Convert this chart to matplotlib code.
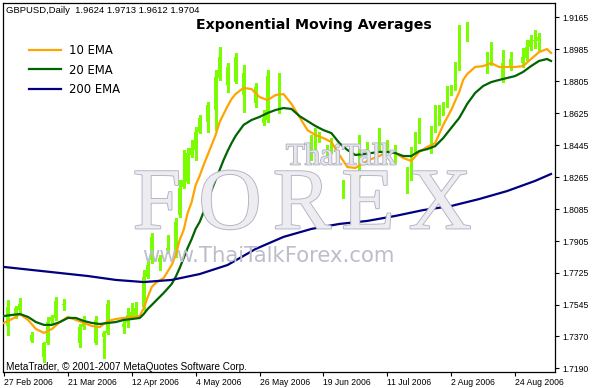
import matplotlib
matplotlib.use("Agg")
import matplotlib.pyplot as plt
import matplotlib.patheffects as pe
import numpy as np

# ---------------- data ----------------
opens = [1.7489, 1.7427, 1.7534, 1.7489, 1.7517, 1.7551, 1.7472, 1.7342, 1.7376, 1.7320,
         1.7253, 1.7331, 1.7455, 1.7472, 1.7567, 1.7545, 1.7551, 1.7506, 1.7461, 1.7331,
         1.7422, 1.7450, 1.7404, 1.7331, 1.7461, 1.7365, 1.7387, 1.7551, 1.7489, 1.7450,
         1.7422, 1.7444, 1.7478, 1.7489, 1.7528, 1.7534, 1.7703, 1.7798, 1.7928, 1.7787,
         1.7809, 1.7848, 1.7866, 1.7837, 1.8051, 1.8209, 1.8237, 1.8389, 1.8417, 1.8518,
         1.8597, 1.8575, 1.8670, 1.8642, 1.8822, 1.8940, 1.8783, 1.8884, 1.8800, 1.8940,
         1.8726, 1.8850, 1.8766, 1.8681, 1.8772, 1.8569, 1.8586, 1.8833, 1.8726, 1.8659,
         1.8822, 1.8698, 1.8631, 1.8541, 1.8428, 1.8417, 1.8417, 1.8372, 1.8428, 1.8484,
         1.8495, 1.8400, 1.8417, 1.8456, 1.8361, 1.8175, 1.8231, 1.8214, 1.8175, 1.8400,
         1.8484, 1.8406, 1.8439, 1.8445, 1.8428, 1.8507, 1.8422, 1.8439, 1.8361, 1.8434,
         1.8333, 1.8203, 1.8259, 1.8417, 1.8484, 1.8586, 1.8541, 1.8456, 1.8529, 1.8575,
         1.8625, 1.8670, 1.8754, 1.8766, 1.8878, 1.9081, 1.9036, 1.9064, 1.8979, 1.8923,
         1.8912, 1.8906, 1.8934, 1.8962, 1.8867, 1.8811, 1.8906, 1.8884, 1.8929, 1.8912,
         1.8906, 1.8934, 1.8997, 1.9030, 1.9030, 1.9053, 1.9008, 1.8968]
highs = [1.7517, 1.7573, 1.7556, 1.7539, 1.7584, 1.7562, 1.7489, 1.7393, 1.7387, 1.7342,
         1.7337, 1.7478, 1.7489, 1.7590, 1.7578, 1.7578, 1.7562, 1.7522, 1.7472, 1.7439,
         1.7483, 1.7461, 1.7422, 1.7483, 1.7472, 1.7399, 1.7573, 1.7562, 1.7506, 1.7461,
         1.7461, 1.7528, 1.7556, 1.7562, 1.7545, 1.7742, 1.7798, 1.7950, 1.7939, 1.7826,
         1.7837, 1.7939, 1.7888, 1.8034, 1.8248, 1.8417, 1.8428, 1.8473, 1.8547, 1.8614,
         1.8631, 1.8687, 1.8698, 1.8867, 1.8997, 1.9008, 1.8906, 1.8923, 1.8962, 1.8951,
         1.8895, 1.8867, 1.8800, 1.8794, 1.8783, 1.8642, 1.8867, 1.8856, 1.8754, 1.8850,
         1.8833, 1.8720, 1.8653, 1.8558, 1.8473, 1.8439, 1.8445, 1.8501, 1.8541, 1.8518,
         1.8507, 1.8445, 1.8484, 1.8473, 1.8389, 1.8248, 1.8259, 1.8237, 1.8259, 1.8501,
         1.8501, 1.8462, 1.8456, 1.8473, 1.8541, 1.8529, 1.8473, 1.8462, 1.8445, 1.8445,
         1.8361, 1.8322, 1.8434, 1.8518, 1.8597, 1.8608, 1.8558, 1.8552, 1.8670, 1.8670,
         1.8687, 1.8777, 1.8783, 1.8912, 1.9120, 1.9120, 1.9137, 1.9092, 1.9008, 1.8951,
         1.8934, 1.8968, 1.9025, 1.8979, 1.8895, 1.8979, 1.8923, 1.8968, 1.8951, 1.8934,
         1.8991, 1.9036, 1.9064, 1.9092, 1.9075, 1.9070, 1.9036, 1.8991]
lows = [1.7427, 1.7376, 1.7472, 1.7472, 1.7500, 1.7450, 1.7370, 1.7337, 1.7303, 1.7258,
        1.7225, 1.7326, 1.7444, 1.7461, 1.7528, 1.7517, 1.7489, 1.7439, 1.7376, 1.7309,
        1.7410, 1.7387, 1.7314, 1.7326, 1.7370, 1.7247, 1.7382, 1.7472, 1.7427, 1.7399,
        1.7387, 1.7422, 1.7472, 1.7478, 1.7489, 1.7517, 1.7697, 1.7781, 1.7781, 1.7742,
        1.7764, 1.7837, 1.7820, 1.7815, 1.8040, 1.8203, 1.8231, 1.8378, 1.8361, 1.8512,
        1.8529, 1.8518, 1.8614, 1.8529, 1.8811, 1.8822, 1.8743, 1.8766, 1.8794, 1.8811,
        1.8631, 1.8698, 1.8653, 1.8659, 1.8575, 1.8558, 1.8575, 1.8698, 1.8631, 1.8625,
        1.8676, 1.8597, 1.8512, 1.8417, 1.8383, 1.8361, 1.8316, 1.8361, 1.8417, 1.8462,
        1.8378, 1.8383, 1.8400, 1.8344, 1.8164, 1.8147, 1.8192, 1.8158, 1.8164, 1.8265,
        1.8389, 1.8400, 1.8372, 1.8389, 1.8417, 1.8417, 1.8406, 1.8383, 1.8350, 1.8304,
        1.8220, 1.8175, 1.8248, 1.8406, 1.8456, 1.8518, 1.8473, 1.8400, 1.8518, 1.8558,
        1.8614, 1.8659, 1.8726, 1.8754, 1.8867, 1.9036, 1.9030, 1.8951, 1.8895, 1.8839,
        1.8867, 1.8850, 1.8895, 1.8839, 1.8783, 1.8800, 1.8856, 1.8867, 1.8878, 1.8867,
        1.8884, 1.8923, 1.8979, 1.8991, 1.8979, 1.8979, 1.8945, 1.8923]
closes = [1.7450, 1.7534, 1.7489, 1.7528, 1.7551, 1.7472, 1.7387, 1.7376, 1.7320, 1.7281,
          1.7331, 1.7450, 1.7478, 1.7567, 1.7545, 1.7551, 1.7506, 1.7461, 1.7404, 1.7422,
          1.7450, 1.7404, 1.7331, 1.7461, 1.7387, 1.7387, 1.7551, 1.7489, 1.7450, 1.7422,
          1.7439, 1.7489, 1.7506, 1.7528, 1.7506, 1.7703, 1.7770, 1.7928, 1.7798, 1.7809,
          1.7787, 1.7866, 1.7837, 1.8012, 1.8203, 1.8248, 1.8400, 1.8428, 1.8518, 1.8597,
          1.8575, 1.8670, 1.8642, 1.8828, 1.8940, 1.8884, 1.8884, 1.8800, 1.8940, 1.8850,
          1.8850, 1.8766, 1.8681, 1.8772, 1.8597, 1.8597, 1.8833, 1.8726, 1.8659, 1.8822,
          1.8698, 1.8631, 1.8541, 1.8428, 1.8406, 1.8389, 1.8333, 1.8434, 1.8484, 1.8495,
          1.8400, 1.8422, 1.8456, 1.8361, 1.8192, 1.8231, 1.8214, 1.8175, 1.8237, 1.8484,
          1.8406, 1.8439, 1.8389, 1.8417, 1.8507, 1.8434, 1.8439, 1.8417, 1.8434, 1.8333,
          1.8259, 1.8265, 1.8344, 1.8484, 1.8586, 1.8541, 1.8501, 1.8541, 1.8575, 1.8631,
          1.8670, 1.8766, 1.8772, 1.8878, 1.9081, 1.9064, 1.9064, 1.8979, 1.8923, 1.8867,
          1.8895, 1.8940, 1.8962, 1.8867, 1.8811, 1.8906, 1.8884, 1.8929, 1.8901, 1.8889,
          1.8940, 1.8997, 1.9036, 1.9036, 1.9053, 1.9008, 1.8968, 1.8945]

ema_idx = [0, 2, 4, 6, 8, 10, 12, 14, 16, 18, 20, 22, 24, 26, 28, 30, 32, 34,
           35, 36, 37, 38, 40, 42, 43, 44, 45, 46, 47, 48, 49, 50, 51, 52, 53,
           54, 55, 56, 57, 58, 60, 62, 64, 66, 68, 70, 72, 74, 76, 78, 80, 82,
           84, 86, 88, 90, 92, 94, 96, 98, 100, 102, 104, 106, 108, 110, 112,
           114, 115, 116, 118, 120, 122, 124, 126, 128, 130, 132, 134, 136, 137]
ema10 = [1.7444, 1.7466, 1.7494, 1.7461, 1.7410, 1.7388, 1.7410, 1.7449, 1.7478,
         1.7461, 1.7444, 1.7427, 1.7421, 1.7455, 1.7466, 1.7472, 1.7478, 1.7483,
         1.7528, 1.7590, 1.7646, 1.7669, 1.7697, 1.7770, 1.7826, 1.7911, 1.7967,
         1.8063, 1.8124, 1.8220, 1.8271, 1.8333, 1.8389, 1.8445, 1.8501, 1.8574,
         1.8619, 1.8664, 1.8704, 1.8732, 1.8766, 1.8760, 1.8715, 1.8698, 1.8726,
         1.8732, 1.8676, 1.8603, 1.8529, 1.8501, 1.8484, 1.8462, 1.8389, 1.8321,
         1.8316, 1.8344, 1.8366, 1.8383, 1.8406, 1.8400, 1.8372, 1.8355, 1.8406,
         1.8434, 1.8456, 1.8558, 1.8642, 1.8743, 1.8811, 1.8844, 1.8884, 1.8889,
         1.8906, 1.8884, 1.8884, 1.8884, 1.8889, 1.8929, 1.8968, 1.8985, 1.8963]
ema20 = [1.7483, 1.7489, 1.7494, 1.7478, 1.7449, 1.7433, 1.7433, 1.7449, 1.7472,
         1.7472, 1.7455, 1.7444, 1.7438, 1.7444, 1.7449, 1.7461, 1.7466, 1.7472,
         1.7494, 1.7523, 1.7545, 1.7568, 1.7613, 1.7663, 1.7703, 1.7753, 1.7809,
         1.7866, 1.7916, 1.7973, 1.8012, 1.8068, 1.8130, 1.8192, 1.8248, 1.8304,
         1.8361, 1.8411, 1.8456, 1.8496, 1.8558, 1.8586, 1.8603, 1.8625, 1.8642,
         1.8653, 1.8648, 1.8608, 1.8580, 1.8552, 1.8529, 1.8512, 1.8456, 1.8417,
         1.8389, 1.8394, 1.8400, 1.8406, 1.8406, 1.8400, 1.8383, 1.8383, 1.8411,
         1.8422, 1.8439, 1.8484, 1.8541, 1.8597, 1.8636, 1.8676, 1.8738, 1.8777,
         1.8799, 1.8811, 1.8822, 1.8833, 1.8856, 1.8889, 1.8918, 1.8929, 1.8918]
ema200_idx = [0, 7, 14, 21, 28, 35, 42, 49, 56, 63, 70, 77, 84, 91, 98, 105, 112,
              119, 126, 133, 137]
ema200 = [1.7759, 1.7742, 1.7725, 1.7708, 1.7686, 1.7674, 1.7686, 1.7719, 1.7770,
          1.7860, 1.7928, 1.7973, 1.8001, 1.8018, 1.8046, 1.8079, 1.8102, 1.8141,
          1.8186, 1.8243, 1.8282]

xtick_idx = [0, 16, 32, 48, 64, 80, 96, 112, 128]
xtick_labels = ["27 Feb 2006", "21 Mar 2006", "12 Apr 2006", "4 May 2006",
                "26 May 2006", "19 Jun 2006", "11 Jul 2006", "2 Aug 2006",
                "24 Aug 2006"]
ytick_vals = [1.9165, 1.8985, 1.8805, 1.8625, 1.8445, 1.8265, 1.8085, 1.7905,
              1.7725, 1.7545, 1.7370, 1.7190]
ytick_labels = ["1.9165", "1.8985", "1.8805", "1.8625", "1.8445", "1.8265",
                "1.8085", "1.7905", "1.7725", "1.7545", "1.7370", "1.7190"]
legend_labels = ["10 EMA", "20 EMA", "200 EMA"]

# ---------------- figure ----------------
W, H = 593, 388
fig = plt.figure(figsize=(W / 100, H / 100), dpi=100)
fig.patch.set_facecolor("white")
L, R, T, B = 3, 555, 3, 372
ax = fig.add_axes([L / W, 1 - B / H, (R - L) / W, (B - T) / H])
ax.set_facecolor("white")

def fx(px):
    return px / W

def fy(py):
    return 1 - py / H

small = "Liberation Sans"
outline = [pe.withStroke(linewidth=1.3, foreground="#b2b2c2")]

# watermark
fig.text(fx(341), fy(157), "ThaiTalk", family="Liberation Serif", fontsize=22,
         color="#e6e6ec", ha="center", va="center", zorder=0.5,
         path_effects=outline)
for ch, cx in zip("FOREX", [157, 230, 302, 368, 440]):
    fig.text(fx(cx), fy(207), ch, family="Liberation Serif", fontsize=63,
             color="#ececf1", ha="center", va="center", zorder=0.5,
             path_effects=outline)
fig.text(fx(268), fy(256), "www.ThaiTalkForex.com", family="DejaVu Sans",
         fontsize=15.3, color="#bdbdcb", ha="center", va="center", zorder=0.5)

# candles
o = np.array(opens); h = np.array(highs); lo = np.array(lows); c = np.array(closes)
x = np.arange(len(o))
bull = c >= o
cols = np.where(bull, "#7CFC00", "#FFFFFF")
ax.vlines(x, lo, h, colors=cols, linewidth=1.0, zorder=2, antialiased=False)
bh = np.maximum(np.abs(c - o), 0.0003)
ax.bar(x, bh, bottom=np.minimum(o, c), width=0.8, color=cols, linewidth=0,
       zorder=2.1, antialiased=False)

# EMA lines
l1, = ax.plot(ema_idx, ema10, color="#FFA500", lw=1.6, zorder=3,
              solid_joinstyle="round")
l2, = ax.plot(ema_idx, ema20, color="#006400", lw=1.6, zorder=3.1,
              solid_joinstyle="round")
l3, = ax.plot(ema200_idx, ema200, color="#000080", lw=1.6, zorder=3.2,
              solid_joinstyle="round")

ax.set_xlim(-0.25, 138)
ax.set_ylim(1.7168, 1.9244)

ax.set_xticks(xtick_idx)
ax.set_xticklabels(xtick_labels, ha="left", family=small, fontsize=6.2)
ax.tick_params(axis="x", direction="out", length=3, width=0.8, pad=1)

ax.yaxis.tick_right()
ax.set_yticks(ytick_vals)
ax.set_yticklabels(ytick_labels, family=small, fontsize=6.2)
ax.tick_params(axis="y", direction="out", length=3, width=0.8, pad=2.5)

for s in ax.spines.values():
    s.set_color("black")
    s.set_linewidth(0.9)

# texts
fig.text(fx(6), fy(10.5), "GBPUSD,Daily  1.9624 1.9713 1.9612 1.9704",
         family=small, fontsize=6.8, ha="left", va="center")
fig.text(fx(6), fy(366.5), "MetaTrader, \u00a9 2001-2007 MetaQuotes Software Corp.",
         family=small, fontsize=7.2, ha="left", va="center")
fig.text(fx(314), fy(25), "Exponential Moving Averages", family="DejaVu Sans",
         fontweight="bold", fontsize=10.2, ha="center", va="center")

leg = ax.legend([l1, l2, l3], legend_labels, loc="upper left",
                bbox_to_anchor=(fx(29), fy(44.5)), bbox_transform=fig.transFigure,
                frameon=False, prop={"family": "DejaVu Sans", "size": 8.4},
                handlelength=2.7, handletextpad=0.75, labelspacing=0.52,
                borderpad=0, borderaxespad=0)

fig.savefig("out.png", dpi=100, facecolor="white")
